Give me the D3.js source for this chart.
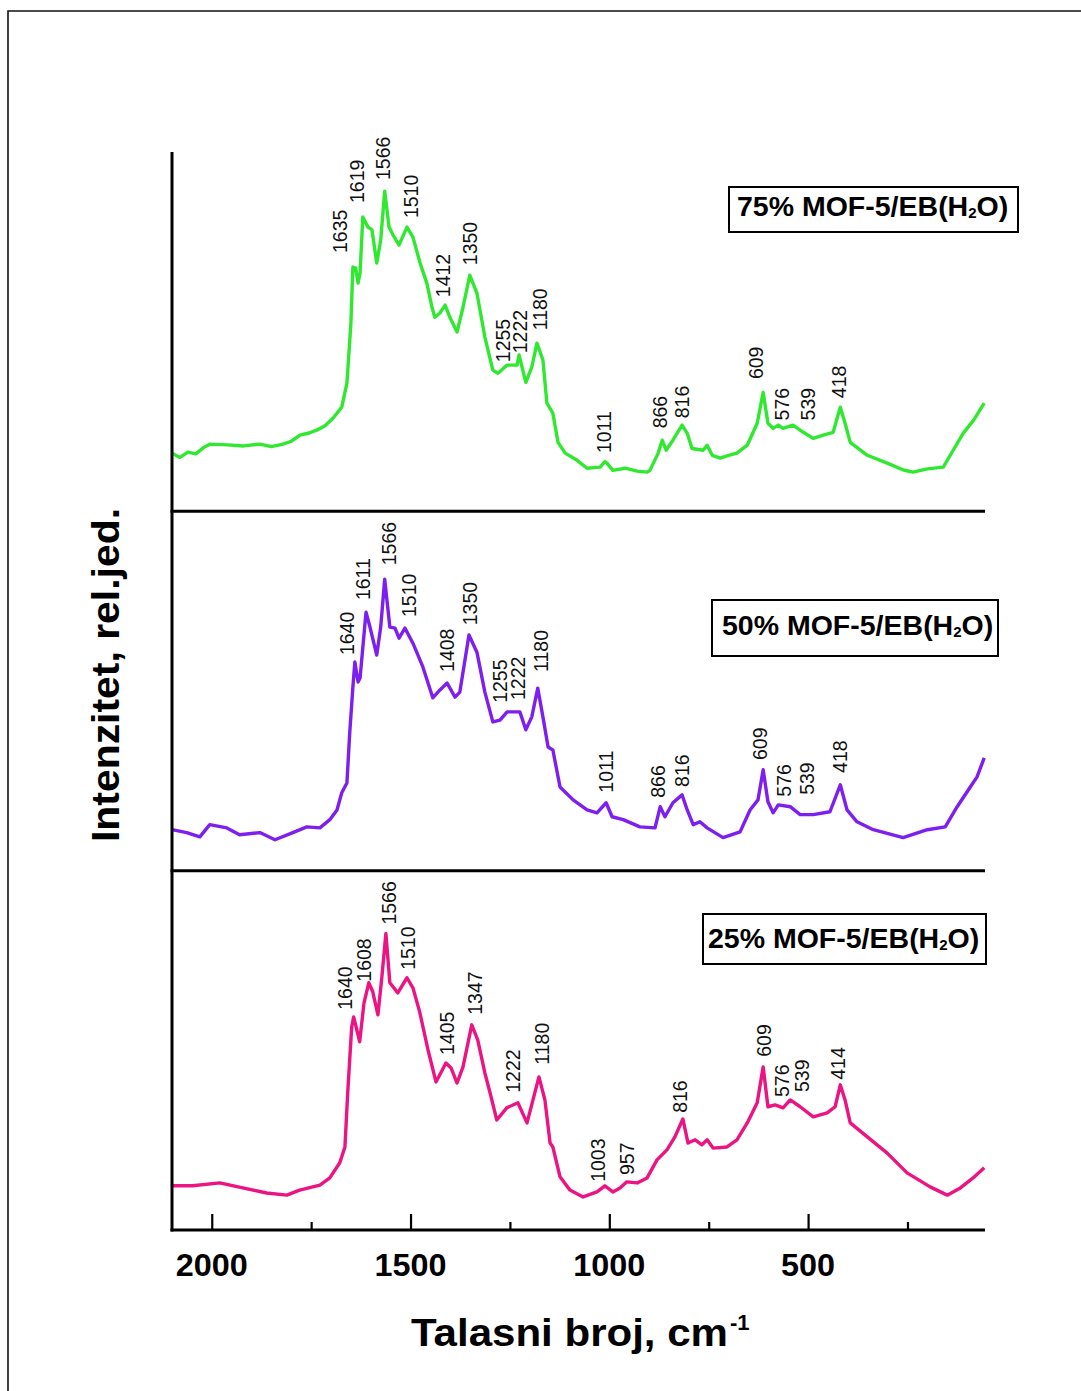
<!DOCTYPE html>
<html><head><meta charset="utf-8">
<script src="https://cdn.jsdelivr.net/npm/d3@7"></script>
<style>html,body{margin:0;padding:0;background:#fff;}svg{display:block;font-family:Arial,"Liberation Sans",sans-serif;}</style>
</head><body>
<svg id="chart" width="1081" height="1391"></svg>
<script>
// ---------- DATA ----------
const seriesNames = ["75% MOF-5/EB(H2O)", "50% MOF-5/EB(H2O)", "25% MOF-5/EB(H2O)"];
const seriesColors = ["#30e830", "#7d1fee", "#ec1482"];
const xTickMajor = [2000, 1500, 1000, 500];
const xTickMinor = [1750, 1250, 750, 250];
const xTitle = "Talasni broj, cm";
const yTitle = "Intenzitet, rel.jed.";

// [wavenumber, relative intensity 0-100 within each panel]
const spectrum75 = [[2100,16.2],[2080,15.0],[2060,16.5],[2040,16.0],[2020,17.8],[2005,18.7],[1960,18.5],[1920,18.2],[1879,18.7],[1850,18.0],[1821,18.7],[1800,19.5],[1778,21.2],[1755,21.8],[1736,22.6],[1715,23.8],[1695,25.9],[1673,29.0],[1660,35.7],[1650,52.4],[1645,68.0],[1638,67.7],[1632,63.5],[1627,66.3],[1620,81.9],[1607,79.1],[1597,78.3],[1585,69.1],[1575,75.5],[1565,89.1],[1554,79.1],[1544,76.9],[1529,74.1],[1509,79.1],[1494,76.3],[1476,69.1],[1459,63.5],[1446,56.8],[1439,54.0],[1426,55.2],[1413,57.4],[1401,54.0],[1383,49.9],[1368,56.8],[1351,65.7],[1333,60.7],[1313,48.5],[1293,39.3],[1280,38.4],[1257,40.7],[1232,40.7],[1227,43.5],[1210,35.9],[1195,40.1],[1182,46.8],[1167,42.1],[1157,30.1],[1142,27.3],[1129,19.2],[1111,16.2],[1081,14.2],[1056,12.0],[1023,12.3],[1011,13.8],[1006,13.4],[991,11.4],[960,12.0],[930,11.2],[905,10.9],[898,11.4],[877,16.2],[867,19.8],[857,17.0],[840,19.8],[817,24.0],[804,21.7],[792,17.5],[764,17.0],[754,18.4],[741,15.6],[721,14.8],[700,15.6],[679,16.2],[653,18.4],[628,24.5],[613,33.1],[601,24.5],[588,23.1],[575,24.0],[563,23.1],[538,24.0],[512,22.0],[487,20.3],[462,21.2],[437,22.0],[419,29.0],[407,24.5],[394,19.2],[351,15.6],[301,13.4],[260,11.5],[236,10.9],[200,11.8],[160,12.3],[135,17.0],[110,21.7],[84,25.3],[57,30.1]];

const spectrum50 = [[2100,11.4],[2063,10.6],[2030,9.4],[2005,12.8],[1962,11.9],[1930,10.0],[1879,10.6],[1841,8.6],[1796,10.6],[1761,12.2],[1728,11.9],[1703,14.2],[1685,16.9],[1673,21.7],[1660,24.4],[1653,38.3],[1645,51.1],[1640,58.1],[1632,52.5],[1627,53.6],[1612,71.9],[1602,67.8],[1585,60.0],[1575,67.8],[1565,81.1],[1552,67.8],[1539,67.5],[1529,64.7],[1514,67.5],[1494,63.3],[1469,56.7],[1444,48.1],[1426,50.3],[1408,52.2],[1388,48.3],[1376,49.7],[1353,65.6],[1333,60.8],[1313,49.7],[1293,41.4],[1275,41.9],[1257,44.2],[1225,44.2],[1210,39.2],[1195,42.8],[1180,50.8],[1167,42.8],[1154,34.4],[1142,33.6],[1124,23.3],[1091,19.7],[1056,16.9],[1031,16.1],[1008,18.9],[993,15.0],[965,14.2],[923,12.2],[885,11.9],[872,17.8],[860,15.0],[840,18.9],[817,21.1],[804,16.9],[789,12.8],[772,13.6],[754,11.9],[714,9.2],[671,10.8],[646,16.9],[626,19.7],[613,28.1],[601,19.2],[588,16.1],[575,18.3],[545,17.8],[520,15.6],[487,15.6],[445,16.4],[419,23.9],[402,16.9],[377,13.6],[336,11.4],[261,9.2],[200,11.4],[155,12.2],[125,17.8],[92,23.3],[75,26.1],[57,31.4]];

const spectrum25 = [[2100,12.3],[2048,12.3],[1980,13.1],[1922,11.7],[1862,10.3],[1811,9.7],[1779,11.1],[1728,12.5],[1703,14.5],[1678,18.7],[1665,23.1],[1658,38.2],[1648,56.5],[1643,59.3],[1628,52.4],[1617,63.2],[1605,68.8],[1595,66.3],[1582,59.9],[1572,70.5],[1562,82.5],[1552,68.8],[1532,66.0],[1509,70.2],[1494,67.4],[1477,60.7],[1456,50.1],[1436,41.2],[1424,43.7],[1411,46.5],[1398,45.1],[1383,40.9],[1368,45.4],[1346,57.1],[1331,52.9],[1313,43.7],[1300,38.2],[1283,30.6],[1258,34.0],[1230,35.4],[1207,29.8],[1192,36.2],[1177,42.6],[1162,36.2],[1149,24.2],[1142,23.1],[1124,14.8],[1099,11.1],[1066,9.2],[1031,10.6],[1011,12.3],[991,10.6],[973,11.7],[956,13.4],[930,13.1],[905,14.5],[880,19.5],[855,22.3],[835,25.9],[815,30.9],[802,24.2],[784,25.1],[767,23.7],[754,25.1],[739,22.8],[704,23.1],[679,25.1],[653,29.8],[628,35.4],[613,45.4],[601,34.3],[583,34.8],[563,34.0],[545,36.2],[520,34.3],[487,31.5],[452,32.6],[432,34.3],[419,40.4],[407,36.2],[394,29.8],[351,25.9],[301,21.4],[251,15.9],[193,12.0],[150,9.7],[117,11.7],[85,14.5],[57,17.3]];

// peak annotations: [label, wavenumber, intensity at label foot]
const peaks75 = [["1635",1678,71.9],["1619",1635,85.8],["1566",1570,92.2],["1510",1499,81.6],["1412",1419,59.6],["1350",1351,68.5],["1255",1268,41.5],["1222",1225,44.0],["1180",1174,50.4],["1011",1013,16.2],["866",872,23.1],["816",817,25.9],["609",631,36.8],["576",565,25.3],["539",500,25.3],["418",422,31.5]];
const peaks50 = [["1640",1660,60.0],["1611",1620,75.3],["1566",1555,85.0],["1510",1504,70.6],["1408",1408,55.3],["1350",1351,68.3],["1255",1275,46.7],["1222",1230,47.5],["1180",1172,55.3],["1011",1008,21.7],["866",877,20.3],["816",817,23.3],["609",621,30.8],["576",560,20.6],["539",502,21.1],["418",419,27.2]];
const peaks25 = [["1640",1665,61.3],["1608",1617,69.1],["1566",1555,85.0],["1510",1507,72.4],["1405",1408,48.7],["1347",1338,59.9],["1222",1242,38.2],["1180",1169,46.0],["1003",1028,13.4],["957",955,15.3],["816",822,32.6],["609",611,48.2],["576",565,37.0],["539",515,38.4],["414",424,41.8]];

const spectra = [spectrum75, spectrum50, spectrum25];
const peaks = [peaks75, peaks50, peaks25];

(function () {
  const svg = d3.select("#chart");
  const W = 1081, H = 1391;
  const pLeft = 172, pRight = 985, pTop = 152, pBottom = 1230;
  const panelH = (pBottom - pTop) / 3;

  svg.append("rect").attr("width", W).attr("height", H).attr("fill", "#fff");
  svg.append("path").attr("d", `M8,${H} L8,11 L${W},11`).attr("fill", "none").attr("stroke", "#111").attr("stroke-width", 1.6);

  const x = d3.scaleLinear().domain([2100, 55]).range([pLeft, pRight]);

  const boxes = [
    {x0: 729, y0: 187, x1: 1018, y1: 232, base: 216, tx: 737},
    {x0: 712, y0: 600, x1: 998, y1: 656, base: 635, tx: 722},
    {x0: 703, y0: 914, x1: 986, y1: 964, base: 948, tx: 708}
  ];

  spectra.forEach((data, i) => {
    const yTopPx = pTop + i * panelH, yBotPx = pTop + (i + 1) * panelH;
    const y = d3.scaleLinear().domain([0, 100]).range([yBotPx, yTopPx]);
    const line = d3.line().x(d => x(d[0])).y(d => y(d[1])).curve(d3.curveLinear);
    svg.append("path").datum(data).attr("d", line)
      .attr("fill", "none").attr("stroke", seriesColors[i]).attr("stroke-width", 3.4)
      .attr("stroke-linejoin", "round");

    svg.append("line").attr("x1", pLeft - 1.5).attr("x2", pRight).attr("y1", yBotPx).attr("y2", yBotPx)
      .attr("stroke", "#000").attr("stroke-width", 3);

    svg.append("g").selectAll("text").data(peaks[i]).join("text")
      .attr("transform", d => `translate(${x(d[1])},${y(d[2])}) rotate(-90)`)
      .attr("text-anchor", "start").attr("dominant-baseline", "central")
      .attr("font-size", 19.5).attr("fill", "#111")
      .text(d => d[0]);

    const b = boxes[i];
    svg.append("rect").attr("x", b.x0).attr("y", b.y0).attr("width", b.x1 - b.x0).attr("height", b.y1 - b.y0)
      .attr("fill", "#fff").attr("stroke", "#000").attr("stroke-width", 2);
    const name = seriesNames[i];
    const k = name.indexOf("H2");
    const t = svg.append("text").attr("x", b.tx).attr("y", b.base)
      .attr("font-size", 28.5).attr("font-weight", "bold").attr("fill", "#000");
    t.append("tspan").text(name.slice(0, k + 1));
    t.append("tspan").attr("font-size", 15).attr("dy", 2).text("2");
    t.append("tspan").attr("dy", -2).text(name.slice(k + 2));
  });

  svg.append("line").attr("x1", pLeft).attr("x2", pLeft).attr("y1", pTop).attr("y2", pBottom + 1.5)
    .attr("stroke", "#000").attr("stroke-width", 3);

  const axisMajor = d3.axisBottom(x).tickValues(xTickMajor).tickSizeInner(-16).tickSizeOuter(0).tickFormat("");
  const axisMinor = d3.axisBottom(x).tickValues(xTickMinor).tickSizeInner(-8).tickSizeOuter(0).tickFormat("");
  [axisMajor, axisMinor].forEach(ax => {
    const g = svg.append("g").attr("transform", `translate(0,${pBottom})`).call(ax);
    g.select(".domain").remove();
    g.selectAll(".tick line").attr("stroke", "#000").attr("stroke-width", 2.2);
  });

  svg.append("g").selectAll("text").data(xTickMajor).join("text")
    .attr("x", d => x(d)).attr("y", 1276)
    .attr("text-anchor", "middle").attr("font-size", 31).attr("font-weight", "bold")
    .attr("textLength", d => String(d).length * 18).attr("lengthAdjust", "spacingAndGlyphs")
    .text(d => d);

  const xt = svg.append("text").attr("x", 411).attr("y", 1346)
    .attr("font-size", 38).attr("font-weight", "bold");
  xt.append("tspan").attr("textLength", 317).attr("lengthAdjust", "spacingAndGlyphs").text(xTitle);
  xt.append("tspan").attr("font-size", 22).attr("dy", -16).attr("dx", 2).text("-1");

  svg.append("text").attr("transform", `translate(119,675) rotate(-90)`)
    .attr("text-anchor", "middle").attr("font-size", 38).attr("font-weight", "bold")
    .attr("textLength", 334).attr("lengthAdjust", "spacingAndGlyphs")
    .text(yTitle);
})();
</script>
</body></html>
